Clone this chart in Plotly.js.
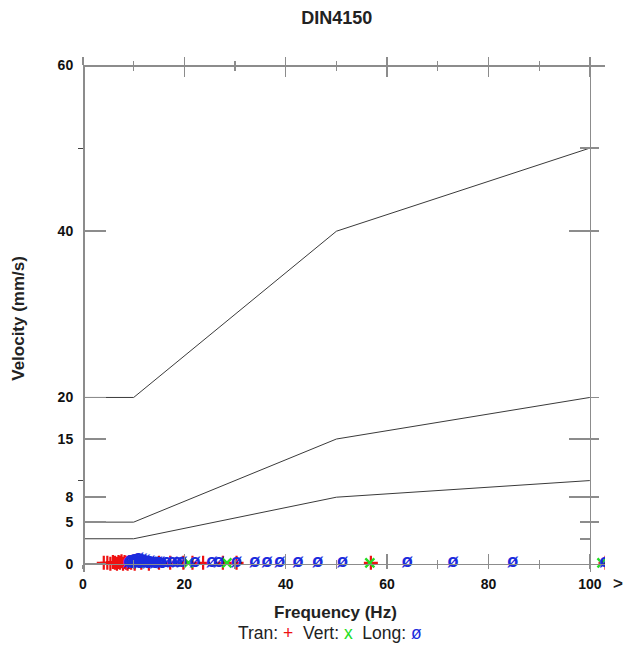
<!DOCTYPE html>
<html>
<head>
<meta charset="utf-8">
<script src="https://cdn.plot.ly/plotly-3.0.1.min.js"></script>
<style>html,body{margin:0;padding:0;background:#fff;}#chart{width:638px;height:645px;}</style>
</head>
<body>
<div id="chart"></div>
<script>
// Limit lines (DIN 4150-3)
var limitFreq = [0, 10, 50, 100];
var line1 = [20, 20, 40, 50];
var line2 = [5, 5, 15, 20];
var line3 = [3, 3, 8, 10];
var lineNames = ['L1', 'L2', 'L3'];

// Events: frequency (Hz) and velocity (mm/s)
var tranFreq = [4.1, 4.8, 5.4, 5.9, 6.3, 6.7, 7.0, 7.3, 7.6, 7.9, 8.2, 8.5, 8.8, 9.1, 9.5, 10.2, 11.5, 13.0, 15.0, 17.2, 19.8, 21.6, 23.7, 27.6, 30.3, 56.8, 103.1];
var tranVel  = [0.1, 0.1, 0.0, 0.2, 0.1, 0.0, 0.2, 0.1, 0.3, 0.0, 0.2, 0.1, 0.0, 0.2, 0.1, 0.0, 0.1, 0.0, 0.1, 0.1, 0.1, 0.1, 0.1, 0.1, 0.1, 0.1, 0.1];
var vertFreq = [11.0, 13.5, 20.8, 28.4, 56.6, 102.4];
var vertVel  = [0.1, 0.1, 0.1, 0.1, 0.1, 0.1];
var longFreq = [9.0, 9.3, 9.6, 9.9, 10.1, 10.3, 10.5, 10.7, 10.9, 11.1, 11.3, 11.6, 11.9, 12.2, 12.5, 12.8, 13.1, 13.4, 13.8, 14.2, 14.6, 15.1, 15.6, 16.5, 17.6, 18.6, 19.5, 22.1, 25.4, 26.8, 30.3, 33.9, 36.3, 38.8, 42.4, 46.3, 51.2, 64.0, 73.0, 84.8, 103.0];
var longVel  = [0.1, 0.4, 0.0, 0.3, 0.5, 0.1, 0.4, 0.2, 0.6, 0.0, 0.3, 0.5, 0.1, 0.4, 0.2, 0.0, 0.3, 0.1, 0.2, 0.0, 0.1, 0.2, 0.0, 0.1, 0.1, 0.1, 0.1, 0.2, 0.1, 0.1, 0.1, 0.1, 0.1, 0.1, 0.1, 0.1, 0.1, 0.1, 0.1, 0.1, 0.1];

// Tick labels
var yTickVals = [0, 5, 8, 15, 20, 40, 60];
var xTickVals = [0, 20, 40, 60, 80, 100];

var FONT = 'Liberation Sans, Arial, sans-serif';
var AX = '#8c8c8c';
var XR = [0, 103];
var YR = [-1, 60];
var RED = '#ee1111', GREEN = '#22dd22', BLUE = '#1a2bdd';

var lineStyle = {color: '#3a3a3a', width: 1};
var traces = [
  {x: limitFreq, y: line1, mode: 'lines', line: lineStyle, hoverinfo: 'skip'},
  {x: limitFreq, y: line2, mode: 'lines', line: lineStyle, hoverinfo: 'skip'},
  {x: limitFreq, y: line3, mode: 'lines', line: lineStyle, hoverinfo: 'skip'},
  {x: tranFreq, y: tranVel, mode: 'markers', marker: {symbol: 'cross-thin-open', size: 10, color: RED, line: {color: RED, width: 2.2}}},
  {x: vertFreq, y: vertVel, mode: 'markers', marker: {symbol: 'x-thin-open', size: 9, color: GREEN, line: {color: GREEN, width: 2.4}}},
  {x: longFreq, y: longVel, mode: 'text', text: longFreq.map(function(){return 'ø';}), textposition: 'middle center', textfont: {family: FONT, size: 18, color: BLUE, weight: 'bold'}},
  // empty traces to bind overlay axes
  {x: [], y: [], xaxis: 'x2', yaxis: 'y2'},
  {x: [], y: [], xaxis: 'x3', yaxis: 'y3'},
  {x: [], y: [], xaxis: 'x4', yaxis: 'y4'}
];

var lastVals = [line1[line1.length-1], line2[line2.length-1], line3[line3.length-1]];
var labelShift = [8, 10, 0];
var annotations = lineNames.map(function(n, i){
  return {x: 106, y: lastVals[i], xref: 'x', yref: 'y', text: '<b>' + n + '</b>', showarrow: false,
    yshift: labelShift[i], xanchor: 'left', font: {family: FONT, size: 13, color: '#111'}};
});
annotations.push(
  {xref: 'paper', yref: 'paper', x: 0.483, y: -0.080, text: '<b>Frequency (Hz)</b>', showarrow: false, xanchor: 'center', yanchor: 'middle', font: {family: FONT, size: 17, color: '#222'}},
  {xref: 'paper', yref: 'paper', x: 0.473, y: -0.120, text: 'Tran: <span style="color:' + RED + '">+</span>  Vert: <span style="color:' + GREEN + '">x</span>  Long: <span style="color:' + BLUE + '">ø</span>', showarrow: false, xanchor: 'center', yanchor: 'middle', font: {family: FONT, size: 17.5, color: '#222'}},
  {xref: 'paper', yref: 'paper', x: -0.124, y: 0.50, text: '<b>Velocity (mm/s)</b>', textangle: -90, showarrow: false, xanchor: 'center', yanchor: 'middle', font: {family: FONT, size: 17, color: '#222'}},
  {xref: 'paper', yref: 'paper', x: 1.024, y: -0.022, text: '<b>&gt;</b>', showarrow: false, xanchor: 'center', yanchor: 'middle', font: {family: FONT, size: 17, color: '#222'}}
);

var layout = {
  width: 638, height: 645,
  margin: {l: 83, r: 33, t: 65, b: 73},
  paper_bgcolor: '#fff', plot_bgcolor: '#fff',
  showlegend: false,
  title: {text: '<b>DIN4150</b>', x: 0.528, xref: 'container', y: 0.973, yref: 'container', yanchor: 'middle', font: {family: FONT, size: 18, color: '#222'}},
  font: {family: FONT, size: 14, color: '#222'},
  xaxis: {range: XR, anchor: 'free', position: 1/61, showline: true, linecolor: AX, linewidth: 1.5,
    tickmode: 'array', tickvals: xTickVals, ticks: 'inside', ticklen: 10, tickcolor: AX, tickwidth: 1.5,
    ticklabelstandoff: 7, tickfont: {family: FONT, size: 14, color: '#111', weight: 'bold'},
    minor: {tickmode: 'linear', tick0: 0, dtick: 10, ticks: 'inside', ticklen: 4, tickcolor: AX, tickwidth: 1.2},
    showgrid: false, zeroline: false, fixedrange: true},
  yaxis: {range: YR, anchor: 'free', position: 0, showline: true, linecolor: AX, linewidth: 1.5,
    tickmode: 'array', tickvals: yTickVals, ticks: 'inside', ticklen: 21, tickcolor: AX, tickwidth: 1.5,
    ticklabelstandoff: 7, tickfont: {family: FONT, size: 14, color: '#111', weight: 'bold'},
    minor: {tickmode: 'array', tickvals: [10, 50], ticks: 'outside', ticklen: 5, tickcolor: '#444', tickwidth: 1.2},
    showgrid: false, zeroline: false, fixedrange: true},
  // top frame axis
  xaxis2: {range: XR, overlaying: 'x', side: 'top', anchor: 'free', position: 1, showline: true, linecolor: AX, linewidth: 1.5,
    tickmode: 'linear', tick0: 0, dtick: 20, ticks: 'inside', ticklen: 10, tickcolor: AX, tickwidth: 1.5, showticklabels: false,
    minor: {tickmode: 'linear', tick0: 0, dtick: 10, ticks: 'inside', ticklen: 4, tickcolor: AX, tickwidth: 1.2},
    showgrid: false, zeroline: false, fixedrange: true},
  xaxis3: {range: XR, overlaying: 'x', side: 'top', anchor: 'free', position: 1, showline: false,
    tickmode: 'linear', tick0: 20, dtick: 20, ticks: 'outside', ticklen: 8, tickcolor: AX, tickwidth: 1.5, showticklabels: false,
    minor: {tickmode: 'linear', tick0: 0, dtick: 10, ticks: 'outside', ticklen: 4, tickcolor: AX, tickwidth: 1.2},
    showgrid: false, zeroline: false, fixedrange: true},
  xaxis4: {range: XR, overlaying: 'x', side: 'bottom', anchor: 'free', position: 1/61, showline: false,
    tickmode: 'array', tickvals: [], ticks: 'outside', ticklen: 4, tickcolor: AX, showticklabels: false,
    minor: {tickmode: 'linear', tick0: 0, dtick: 10, ticks: 'outside', ticklen: 4, tickcolor: AX, tickwidth: 1.2},
    showgrid: false, zeroline: false, fixedrange: true},
  // right frame axis
  yaxis2: {range: YR, overlaying: 'y', side: 'right', anchor: 'free', position: 100/103, showline: true, linecolor: AX, linewidth: 1.5,
    tickmode: 'array', tickvals: [8, 15, 40, 60], ticks: 'inside', ticklen: 21, tickcolor: AX, tickwidth: 1.5, showticklabels: false,
    showgrid: false, zeroline: false, fixedrange: true},
  yaxis3: {range: YR, overlaying: 'y', side: 'right', anchor: 'free', position: 100/103, showline: false,
    tickmode: 'array', tickvals: [5, 8, 15, 20, 40, 50], ticks: 'outside', ticklen: 8, tickcolor: AX, tickwidth: 1.5, showticklabels: false,
    showgrid: false, zeroline: false, fixedrange: true},
  yaxis4: {range: YR, overlaying: 'y', side: 'right', anchor: 'free', position: 100/103, showline: false,
    tickmode: 'array', tickvals: [3, 5, 50], ticks: 'inside', ticklen: 10, tickcolor: AX, tickwidth: 1.5, showticklabels: false,
    showgrid: false, zeroline: false, fixedrange: true},
  annotations: annotations
};

Plotly.newPlot('chart', traces, layout, {displayModeBar: false, staticPlot: true});
</script>
</body>
</html>
